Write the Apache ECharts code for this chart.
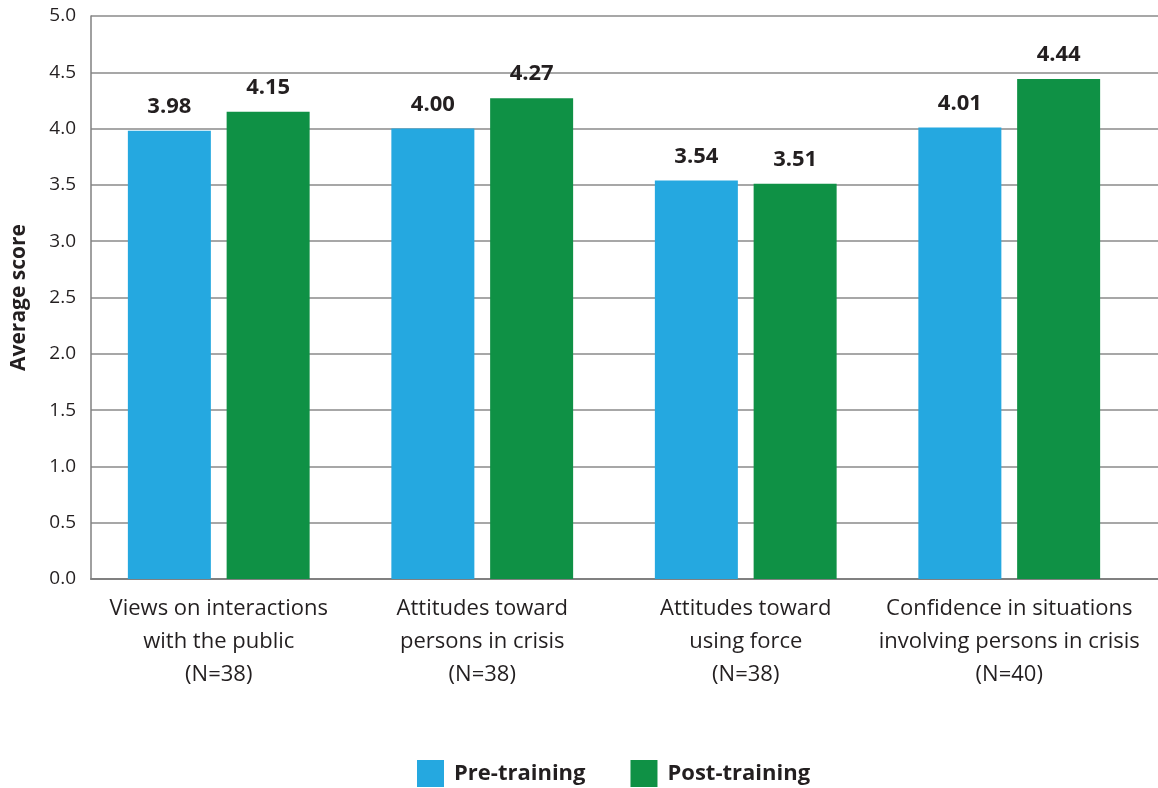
<!DOCTYPE html>
<html><head><meta charset="utf-8">
<script src="https://cdn.jsdelivr.net/npm/echarts@6/dist/echarts.min.js"></script>
<style>html,body{margin:0;padding:0;background:#fff}#c{width:1158px;height:788px}</style>
</head><body><div id="c"></div>
<script>
const categories = [
  "Views on interactions\nwith the public\n(N=38)",
  "Attitudes toward\npersons in crisis\n(N=38)",
  "Attitudes toward\nusing force\n(N=38)",
  "Confidence in situations\ninvolving persons in crisis\n(N=40)"
];
const preTraining = [3.98, 4.00, 3.54, 4.01];
const postTraining = [4.15, 4.27, 3.51, 4.44];
const seriesNames = ["Pre-training", "Post-training"];
const yTicks = {min: 0, max: 5, interval: 0.5};

const font = "'Open Sans', 'Noto Sans', sans-serif";
const ink = '#231f20';
const chart = echarts.init(document.getElementById('c'));
const labelCfg = {
  show: true, position: 'top', distance: 13,
  formatter: p => p.value.toFixed(2),
  fontFamily: font, fontWeight: 'bold', fontSize: 22, color: ink
};
chart.setOption({
  animation: false,
  textStyle: {fontFamily: font},
  grid: [
    {left: 87, right: 17, top: 16, bottom: 209, outerBoundsMode: 'none'},
    {left: 91, right: 0, top: 16, bottom: 209, outerBoundsMode: 'none'}
  ],
  legend: {
    left: 412, top: 755, itemWidth: 27, itemHeight: 27, itemGap: 45,
    icon: 'rect',
    textStyle: {fontFamily: font, fontWeight: 'bold', fontSize: 22, color: ink, padding: [0, 0, 0, 5]},
    data: seriesNames
  },
  xAxis: [
    {
      type: 'category', data: categories, gridIndex: 0,
      axisLine: {show: false},
      axisTick: {show: false},
      axisLabel: {fontFamily: font, fontSize: 22, color: ink, lineHeight: 33, margin: 13, interval: 0}
    },
    {
      type: 'category', data: categories, gridIndex: 1,
      axisLine: {lineStyle: {color: '#808080', width: 2}},
      axisTick: {show: false}, axisLabel: {show: false}
    }
  ],
  yAxis: [
    {
      type: 'value', gridIndex: 0, min: yTicks.min, max: yTicks.max, interval: yTicks.interval,
      axisLine: {show: false}, axisTick: {show: false}, axisLabel: {show: false}, splitLine: {show: false}
    },
    {
      type: 'value', gridIndex: 1, min: yTicks.min, max: yTicks.max, interval: yTicks.interval,
      name: 'Average score', nameLocation: 'middle', nameGap: 61, nameRotate: 90,
      nameTextStyle: {fontFamily: font, fontWeight: 'bold', fontSize: 21, color: ink},
      axisLine: {show: true, lineStyle: {color: '#808080', width: 1.5}},
      axisTick: {show: false},
      axisLabel: {formatter: v => v.toFixed(1), fontFamily: font, fontSize: 19, color: ink, margin: 15},
      splitLine: {lineStyle: {color: '#8a8a8a', width: 1.5}}
    }
  ],
  series: [
    {name: seriesNames[0], type: 'bar', data: preTraining, barWidth: 83, barGap: '19%',
     xAxisIndex: 0, yAxisIndex: 0, z: 3,
     itemStyle: {color: '#25a8e0'}, label: labelCfg},
    {name: seriesNames[1], type: 'bar', data: postTraining, barWidth: 83,
     xAxisIndex: 0, yAxisIndex: 0, z: 3,
     itemStyle: {color: '#0f9145'}, label: labelCfg}
  ]
});
</script></body></html>
